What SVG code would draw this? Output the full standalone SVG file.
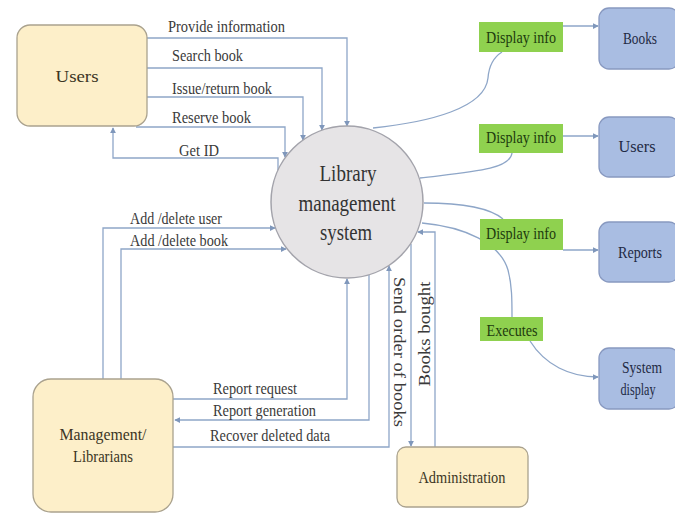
<svg xmlns="http://www.w3.org/2000/svg" width="675" height="514" viewBox="0 0 675 514">
<style>
text{font-family:"Liberation Serif","Times New Roman",serif;}
.lbl{font-size:17px;fill:#3a3a3a;}
.ent{fill:#fdefc9;stroke:#aaa28e;stroke-width:1.3;}
.ent-t{font-size:17px;fill:#3b3524;text-anchor:middle;}
.blue{fill:#a9bde2;stroke:#8899c0;stroke-width:1.3;}
.blue-t{font-size:17px;fill:#1f2a44;text-anchor:middle;}
.grn{fill:#8fd14f;}
.grn-t{font-size:17px;fill:#1d3a0e;text-anchor:middle;}
.ln{fill:none;stroke:#8ea6c8;stroke-width:1.3;}
.arr{marker-end:url(#ah);}
</style>
<defs>
<marker id="ah" viewBox="0 0 8 8" refX="7" refY="4" markerWidth="6" markerHeight="6" orient="auto" markerUnits="userSpaceOnUse">
<path d="M0,0 L8,4 L0,8 z" fill="#7f97bb"/>
</marker>
</defs>
<rect width="675" height="514" fill="#ffffff"/>

<g id="connectors">
<path class="ln arr" d="M147,38 H347 V126"/>
<path class="ln arr" d="M147,68 H322 V130"/>
<path class="ln arr" d="M147,97 H303 V140"/>
<path class="ln arr" d="M136,127 H285 V157"/>
<path class="ln arr" d="M278,170 V158 H113 V128"/>
<path class="ln arr" d="M103,379 V228 H275"/>
<path class="ln arr" d="M121,379 V249 H286"/>
<path class="ln arr" d="M173,399 H347 V279"/>
<path class="ln arr" d="M369,275 V420 H175"/>
<path class="ln arr" d="M173,447 H389 V266"/>
<path class="ln arr" d="M411,244 V446"/>
<path class="ln arr" d="M435,447 V232 H418"/>
<path class="ln" d="M373,128 C430,122 485,108 488,78 C489,65 494,57 502,52"/>
<path class="ln" d="M420,178 C470,172 510,170 512,153"/>
<path class="ln" d="M424,203 C460,203 490,208 503,219"/>
<path class="ln" d="M422,223 C465,227 500,243 508,270 C512,285 512,300 512,317"/>
<path class="ln arr" d="M530,341 C545,365 570,377 598,377"/>
<path class="ln arr" d="M563,26 H598"/>
<path class="ln arr" d="M563,136 H598"/>
<path class="ln arr" d="M563,250 H598"/>
<text class="lbl" x="168" y="32" textLength="117" lengthAdjust="spacingAndGlyphs">Provide information</text>
<text class="lbl" x="172" y="61" textLength="71" lengthAdjust="spacingAndGlyphs">Search book</text>
<text class="lbl" x="172" y="94" textLength="100" lengthAdjust="spacingAndGlyphs">Issue/return book</text>
<text class="lbl" x="172" y="123" textLength="79" lengthAdjust="spacingAndGlyphs">Reserve book</text>
<text class="lbl" x="179" y="156" textLength="40" lengthAdjust="spacingAndGlyphs">Get ID</text>
<text class="lbl" x="130" y="224" textLength="92" lengthAdjust="spacingAndGlyphs">Add /delete user</text>
<text class="lbl" x="130" y="246" textLength="98" lengthAdjust="spacingAndGlyphs">Add /delete book</text>
<text class="lbl" x="213" y="394" textLength="84" lengthAdjust="spacingAndGlyphs">Report request</text>
<text class="lbl" x="213" y="416" textLength="103" lengthAdjust="spacingAndGlyphs">Report generation</text>
<text class="lbl" x="210" y="441" textLength="120" lengthAdjust="spacingAndGlyphs">Recover deleted data</text>
<text class="lbl" transform="translate(394,352) rotate(90)" text-anchor="middle" textLength="150" lengthAdjust="spacingAndGlyphs">Send order of books</text>
<text class="lbl" transform="translate(430,334) rotate(-90)" text-anchor="middle" textLength="105" lengthAdjust="spacingAndGlyphs">Books bought</text>
</g>

<g id="users">
<rect class="ent" x="17" y="25" width="130" height="101" rx="13"/>
<text class="ent-t" x="77" y="82" textLength="43" lengthAdjust="spacingAndGlyphs">Users</text>
</g>

<g id="management">
<rect class="ent" x="33" y="379" width="140" height="133" rx="18"/>
<text class="ent-t" x="103" y="440" textLength="87" lengthAdjust="spacingAndGlyphs">Management/</text>
<text class="ent-t" x="103" y="462" textLength="60" lengthAdjust="spacingAndGlyphs">Librarians</text>
</g>

<g id="administration">
<rect class="ent" x="397" y="447" width="131" height="60" rx="9"/>
<text class="ent-t" x="462" y="483" textLength="87" lengthAdjust="spacingAndGlyphs">Administration</text>
</g>

<g id="system">
<circle cx="347" cy="202" r="76" fill="#e6e4e6" stroke="#a3a3ab" stroke-width="1.5"/>
<text x="348" y="181" font-size="24" fill="#333" text-anchor="middle" textLength="57" lengthAdjust="spacingAndGlyphs">Library</text>
<text x="347" y="211" font-size="24" fill="#333" text-anchor="middle" textLength="97" lengthAdjust="spacingAndGlyphs">management</text>
<text x="346" y="240" font-size="24" fill="#333" text-anchor="middle" textLength="52" lengthAdjust="spacingAndGlyphs">system</text>
</g>

<g id="display1">
<rect class="grn" x="479" y="22" width="84" height="30"/>
<text class="grn-t" x="521" y="43" textLength="70" lengthAdjust="spacingAndGlyphs">Display info</text>
</g>
<g id="display2">
<rect class="grn" x="479" y="124" width="84" height="29"/>
<text class="grn-t" x="521" y="143" textLength="70" lengthAdjust="spacingAndGlyphs">Display info</text>
</g>
<g id="display3">
<rect class="grn" x="480" y="219" width="83" height="31"/>
<text class="grn-t" x="521" y="239" textLength="70" lengthAdjust="spacingAndGlyphs">Display info</text>
</g>
<g id="executes">
<rect class="grn" x="480" y="317" width="63" height="24"/>
<text class="grn-t" x="512" y="336" textLength="51" lengthAdjust="spacingAndGlyphs">Executes</text>
</g>

<g id="books">
<rect class="blue" x="599" y="8" width="80" height="61" rx="10"/>
<text class="blue-t" x="640" y="44" textLength="34" lengthAdjust="spacingAndGlyphs">Books</text>
</g>
<g id="users-db">
<rect class="blue" x="599" y="117" width="80" height="60" rx="10"/>
<text class="blue-t" x="637" y="152" textLength="37" lengthAdjust="spacingAndGlyphs">Users</text>
</g>
<g id="reports">
<rect class="blue" x="599" y="222" width="80" height="60" rx="10"/>
<text class="blue-t" x="640" y="258" textLength="44" lengthAdjust="spacingAndGlyphs">Reports</text>
</g>
<g id="system-display">
<rect class="blue" x="599" y="348" width="80" height="61" rx="10"/>
<text class="blue-t" x="642" y="373" textLength="40" lengthAdjust="spacingAndGlyphs">System</text>
<text class="blue-t" x="638" y="395" textLength="35" lengthAdjust="spacingAndGlyphs">display</text>
</g>
</svg>
